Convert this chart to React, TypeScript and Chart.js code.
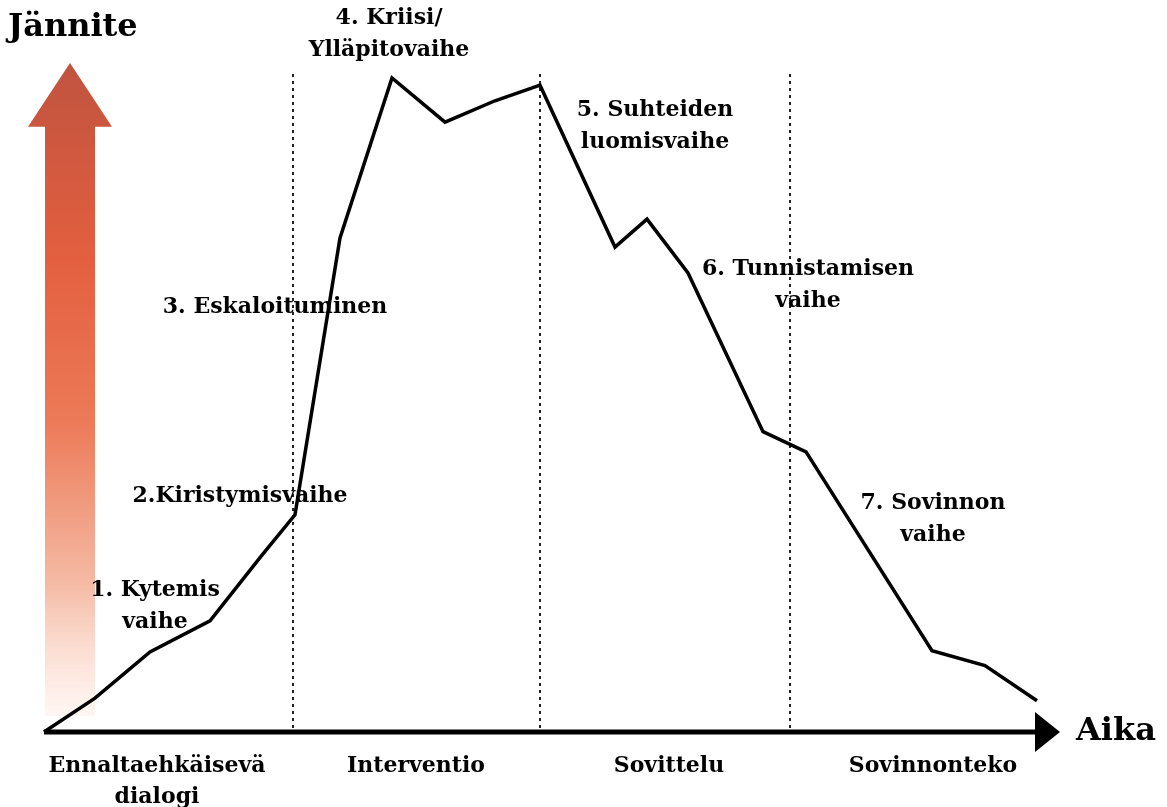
import React, { useEffect, useRef } from "react";
import { Chart, registerables } from "chart.js";

Chart.register(...registerables);

// Time (x) and tension (y) of the curve
const timeValues = [0, 5.1, 10.6, 16.6, 21.8, 25.1, 29.6, 34.8, 40.1, 45.1, 49.6, 57.1, 60.3, 64.4, 71.9, 76.2, 88.8, 94.1, 99.3];
const tensionValues = [0, 5.2, 12.3, 17.1, 27.2, 33.4, 76.0, 100.6, 93.8, 97.1, 99.5, 74.6, 78.9, 70.6, 46.2, 43.1, 12.5, 10.2, 4.8];

// Phase dividers (time)
const dividerTimes = [24.9, 49.6, 74.6];

// Stage labels
const stageLabels = [
  ["4. Kriisi/", "Ylläpitovaihe"],
  ["5. Suhteiden", "luomisvaihe"],
  ["3. Eskaloituminen"],
  ["2.Kiristymisvaihe"],
  ["1. Kytemis", "vaihe"],
  ["6. Tunnistamisen", "vaihe"],
  ["7. Sovinnon", "vaihe"],
];
const stageTimes = [34.5, 61.1, 23.1, 19.6, 11.1, 76.4, 88.9];
const stageTensions = [109.8, 95.7, 65.4, 36.3, 21.8, 71.1, 35.2];

// Phase names under the time axis
const phaseLabels = [["Ennaltaehkäisevä", "dialogi"], ["Interventio"], ["Sovittelu"], ["Sovinnonteko"]];
const phaseTimes = [11.3, 37.2, 62.5, 88.9];

const yTitle = "Jännite";
const xTitle = "Aika";

const FONT = '"DejaVu Serif", "Liberation Serif", serif';

const diagramPlugin = {
  id: "diagram",
  beforeDatasetsDraw(chart: any) {
    const { ctx, scales } = chart;
    const xs = scales.x;
    const ys = scales.y;
    const X = (v: number) => xs.getPixelForValue(v);
    const Y = (v: number) => ys.getPixelForValue(v);
    ctx.save();

    // red tension arrow
    const cx = X(2.6);
    const tipY = Y(102.9);
    const baseY = Y(93.1);
    const botY = Y(2.5);
    const grad = ctx.createLinearGradient(0, tipY, 0, botY);
    grad.addColorStop(0, "#c0533f");
    grad.addColorStop(0.3, "#e35f3f");
    grad.addColorStop(0.55, "#ec7a58");
    grad.addColorStop(0.8, "#f5bba5");
    grad.addColorStop(1, "rgba(255,240,234,0.6)");
    ctx.fillStyle = grad;
    ctx.beginPath();
    ctx.moveTo(cx, tipY);
    ctx.lineTo(cx + 42, baseY);
    ctx.lineTo(cx + 25, baseY);
    ctx.lineTo(cx + 25, botY);
    ctx.lineTo(cx - 25, botY);
    ctx.lineTo(cx - 25, baseY);
    ctx.lineTo(cx - 42, baseY);
    ctx.closePath();
    ctx.fill();

    // dotted dividers
    ctx.strokeStyle = "#222";
    ctx.lineWidth = 2;
    ctx.setLineDash([3, 4]);
    dividerTimes.forEach((t) => {
      ctx.beginPath();
      ctx.moveTo(X(t), Y(101.2));
      ctx.lineTo(X(t), Y(0.3));
      ctx.stroke();
    });
    ctx.setLineDash([]);

    // time axis arrow
    const ay = Y(0);
    ctx.strokeStyle = "#000";
    ctx.lineWidth = 5;
    ctx.beginPath();
    ctx.moveTo(X(0), ay);
    ctx.lineTo(X(99.5), ay);
    ctx.stroke();
    ctx.fillStyle = "#000";
    ctx.beginPath();
    ctx.moveTo(X(99.1), ay - 20);
    ctx.lineTo(X(101.6), ay);
    ctx.lineTo(X(99.1), ay + 20);
    ctx.closePath();
    ctx.fill();

    ctx.restore();
  },
  afterDraw(chart: any) {
    const { ctx, scales } = chart;
    const X = (v: number) => scales.x.getPixelForValue(v);
    const Y = (v: number) => scales.y.getPixelForValue(v);
    ctx.save();
    ctx.fillStyle = "#000";
    ctx.textBaseline = "middle";

    ctx.font = `bold 32px ${FONT}`;
    ctx.textAlign = "left";
    ctx.fillText(yTitle, X(-3.6), Y(108.3));
    ctx.fillText(xTitle, X(103.2), Y(0));

    ctx.font = `bold 22px ${FONT}`;
    ctx.textAlign = "center";
    stageLabels.forEach((lines, i) => {
      lines.forEach((line, j) => {
        ctx.fillText(line, X(stageTimes[i]), Y(stageTensions[i]) + j * 32);
      });
    });
    phaseLabels.forEach((lines, i) => {
      lines.forEach((line, j) => {
        ctx.fillText(line, X(phaseTimes[i]), Y(-5.2) + j * 31);
      });
    });
    ctx.restore();
  },
};

export default function App() {
  const ref = useRef<HTMLCanvasElement | null>(null);
  useEffect(() => {
    if (!ref.current) return;
    const chart = new Chart(ref.current, {
      type: "line",
      data: {
        datasets: [
          {
            data: timeValues.map((t, i) => ({ x: t, y: tensionValues[i] })),
            borderColor: "#000",
            borderWidth: 3.5,
            pointRadius: 0,
            tension: 0,
            clip: false as any,
            borderJoinStyle: "miter",
          },
        ],
      },
      options: {
        animation: false,
        responsive: false,
        layout: { padding: 0 },
        plugins: { legend: { display: false }, tooltip: { enabled: false } },
        scales: {
          x: { type: "linear", min: -4.4, max: 112.3, display: false },
          y: { type: "linear", min: -11.54, max: 112.6, display: false },
        },
      },
      plugins: [diagramPlugin],
    });
    return () => chart.destroy();
  }, []);
  return (
    <div style={{ position: "fixed", left: 0, top: 0, width: 1167, height: 807, background: "#fff" }}>
      <canvas ref={ref} width={1167} height={807} />
    </div>
  );
}
